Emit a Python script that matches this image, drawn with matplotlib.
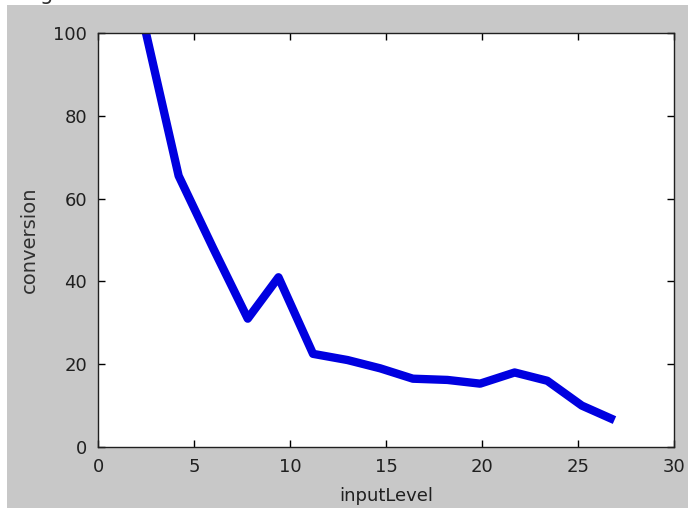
import matplotlib.pyplot as plt
from matplotlib.patches import Rectangle

# values
input_level = [2.5, 4.2, 6.0, 7.8, 9.4, 11.2, 13.0, 14.7, 16.4, 18.2, 19.9, 21.7, 23.4, 25.2, 26.9]
conversion = [100, 65.5, 48, 31, 41, 22.5, 21, 19, 16.5, 16.2, 15.3, 18, 16, 10, 6.5]
x_ticks = [0, 5, 10, 15, 20, 25, 30]
y_ticks = [0, 20, 40, 60, 80, 100]

plt.rcParams["font.family"] = ["DejaVu Sans"]

fig = plt.figure(figsize=(6.88, 5.08), dpi=100, facecolor="#c8c8c8")
# thin white strips top and left, outside the gray figure window
for xy, w, h in [((0, 503 / 508), 1, 5 / 508), ((0, 0), 7 / 688, 1)]:
    fig.patches.append(
        Rectangle(xy, w, h, transform=fig.transFigure,
                  facecolor="white", edgecolor="none", zorder=-5)
    )
# remains of a cut-off caption above the window
fig.text(40 / 688, 1.0, "g", fontsize=15, ha="left", va="baseline", color="#303030")

ax = fig.add_axes([98 / 688, 61 / 508, 576 / 688, 414 / 508])
ax.set_facecolor("white")
ax.plot(input_level, conversion, color="#0000e0", linewidth=6,
        solid_joinstyle="round", solid_capstyle="butt")

ax.set_xlim(0, 30)
ax.set_ylim(0, 100)
ax.set_xticks(x_ticks)
ax.set_yticks(y_ticks)
ax.tick_params(direction="in", top=True, right=True, length=5, width=1,
               labelsize=13, labelcolor="#202020", pad=8)
for spine in ax.spines.values():
    spine.set_linewidth(1)
    spine.set_color("#202020")

ax.set_xlabel("inputLevel", fontsize=13, color="#202020", labelpad=8)
ax.set_ylabel("conversion", fontsize=14, color="#303030", labelpad=10)

fig.savefig("out.png", dpi=100, facecolor="#c8c8c8")
